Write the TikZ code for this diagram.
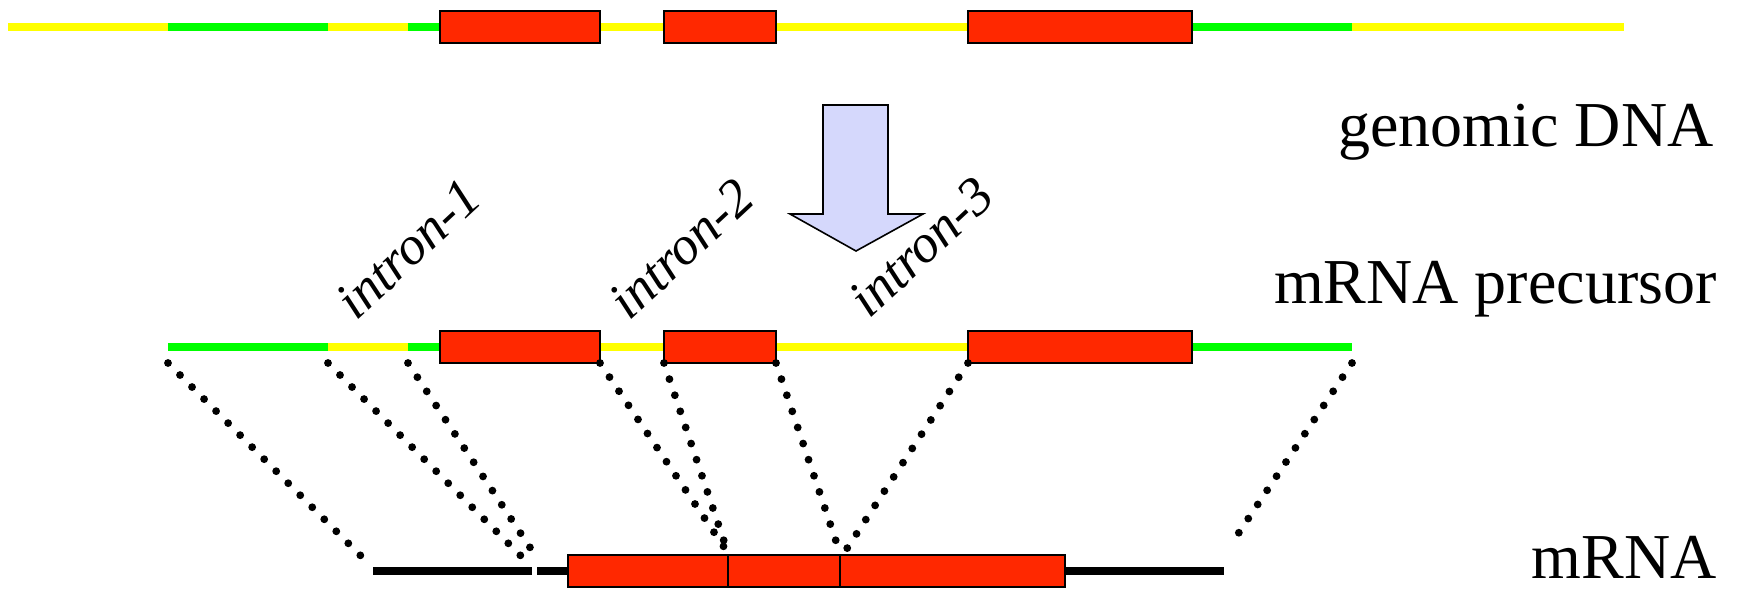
\documentclass[tikz,border=0pt]{standalone}
\usepackage{fontspec}
\setmainfont{Liberation Serif}
\definecolor{exonred}{RGB}{255,40,0}
\definecolor{utrgreen}{RGB}{0,255,0}
\definecolor{intronyellow}{RGB}{255,255,0}
\definecolor{arrowfill}{RGB}{213,216,252}

\begin{document}
\begin{tikzpicture}[x=0.5pt,y=-0.5pt,
  intronline/.style={line width=4pt, draw=intronyellow},
  utrline/.style={line width=4pt, draw=utrgreen},
  exonbox/.style={draw=black, line width=1pt, fill=exonred},
  mrnaline/.style={line width=4pt, draw=black},
  splice/.style={line width=3.9pt, line cap=round, dash pattern=on 0pt off 8.5pt},
  rowlabel/.style={font=\fontsize{32}{38}\selectfont, inner sep=0pt, anchor=base east},
  intronlabel/.style={font=\itshape\fontsize{27}{32}\selectfont, inner sep=0pt, anchor=base west, rotate=43}]

\useasboundingbox (0,0) rectangle (1737,589);

% ---------- genomic DNA ----------
\draw[intronline] (8,27) -- (1624,27);
\draw[utrline] (168,27) -- (328,27);
\draw[utrline] (408,27) -- (440,27);
\draw[utrline] (1192,27) -- (1352,27);
\draw[exonbox] (440,11) rectangle (600,43);
\draw[exonbox] (664,11) rectangle (776,43);
\draw[exonbox] (968,11) rectangle (1192,43);

% ---------- transcription arrow ----------
\draw[fill=arrowfill, draw=black, line width=0.8pt, line join=miter]
  (823,105) -- (888,105) -- (888,214) -- (923,214) -- (856,251)
  -- (790,214) -- (823,214) -- cycle;

% ---------- mRNA precursor ----------
\draw[utrline] (168,347) -- (328,347);
\draw[intronline] (328,347) -- (408,347);
\draw[utrline] (408,347) -- (440,347);
\draw[intronline] (600,347) -- (664,347);
\draw[intronline] (776,347) -- (968,347);
\draw[utrline] (1192,347) -- (1352,347);
\draw[exonbox] (440,331) rectangle (600,363);
\draw[exonbox] (664,331) rectangle (776,363);
\draw[exonbox] (968,331) rectangle (1192,363);

% ---------- mature mRNA ----------
\draw[mrnaline] (373,571) -- (532,571);
\draw[mrnaline] (537,571) -- (568,571);
\draw[mrnaline] (1065,571) -- (1224,571);
\draw[exonbox] (568,555) rectangle (728,587);
\draw[exonbox] (728,555) rectangle (840,587);
\draw[exonbox] (840,555) rectangle (1065,587);

% ---------- splice junctions ----------
\coordinate (pre5) at (168,363);
\coordinate (preI1a) at (328,363);
\coordinate (preI1b) at (408,363);
\coordinate (preE1) at (600,363);
\coordinate (preE2a) at (664,363);
\coordinate (preE2b) at (776,363);
\coordinate (preE3) at (968,363);
\coordinate (pre3) at (1352,363);

\coordinate (m5) at (368,563);
\coordinate (mI1a) at (528,563);
\coordinate (mI1b) at (535,555);
\coordinate (mJ12) at (728,553);
\coordinate (mJ23a) at (840,553);
\coordinate (mJ23b) at (846,550);
\coordinate (m3) at (1230,546);

\draw[splice] (pre5) -- (m5);
\draw[splice] (preI1a) -- (mI1a);
\draw[splice] (preI1b) -- (mI1b);
\draw[splice] (preE1) -- (mJ12);
\draw[splice] (preE2a) -- (mJ12);
\draw[splice] (preE2b) -- (mJ23a);
\draw[splice] (preE3) -- (mJ23b);
\draw[splice] (pre3) -- (m3);

% ---------- labels ----------
\node[rowlabel] (lgen) at (1714,146) {genomic DNA};
\node[rowlabel] (lpre) at (1717,303) {mRNA precursor};
\node[rowlabel] (lmrna) at (1717,578) {mRNA};

\node[intronlabel] (li1) at (356,322) {intron-1};
\node[intronlabel] (li2) at (629,322) {intron-2};
\node[intronlabel] (li3) at (869,320) {intron-3};
\end{tikzpicture}
\end{document}
